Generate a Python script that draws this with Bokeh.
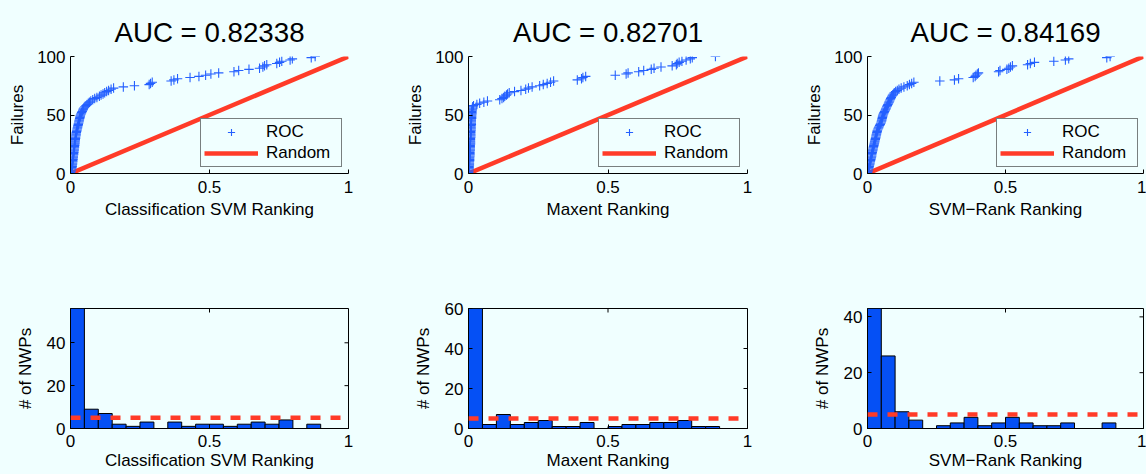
import math
from bokeh.plotting import figure
from bokeh.layouts import column, row
from bokeh.models import Legend, LegendItem, FixedTicker, Span, Range1d
from bokeh.embed import file_html
from bokeh.resources import INLINE

# ---------------- data ----------------
titles = ["AUC = 0.82338", "AUC = 0.82701", "AUC = 0.84169"]
xlabels = ["Classification SVM Ranking", "Maxent Ranking", "SVM\u2212Rank Ranking"]

# normalised rank of each of the 100 failures (sorted)
rank_svm = [
    0.000, 0.002, 0.003, 0.004, 0.005, 0.006, 0.006, 0.007, 0.007, 0.008,
    0.008, 0.009, 0.009, 0.010, 0.010, 0.011, 0.011, 0.012, 0.012, 0.013,
    0.013, 0.014, 0.014, 0.015, 0.015, 0.016, 0.016, 0.017, 0.017, 0.018,
    0.018, 0.019, 0.020, 0.020, 0.021, 0.022, 0.023, 0.024, 0.025, 0.026,
    0.027, 0.028, 0.029, 0.030, 0.031, 0.032, 0.033, 0.034, 0.035, 0.036,
    0.038, 0.040, 0.042, 0.044, 0.046, 0.048,
    0.052, 0.056, 0.060, 0.064, 0.068, 0.073, 0.080, 0.087, 0.095,
    0.104, 0.110, 0.117, 0.123, 0.130, 0.137, 0.146,
    0.155, 0.190, 0.230, 0.283, 0.288, 0.294,
    0.362, 0.372, 0.385, 0.430, 0.462, 0.486, 0.505, 0.533, 0.588,
    0.605, 0.642, 0.680, 0.692, 0.698, 0.706, 0.742,
    0.752, 0.760, 0.790, 0.798, 0.866, 0.880,
]
rank_maxent = [
    0.000, 0.001, 0.001, 0.002, 0.002, 0.002, 0.003, 0.003, 0.003, 0.003,
    0.004, 0.004, 0.004, 0.004, 0.005, 0.005, 0.005, 0.005, 0.005, 0.006,
    0.006, 0.006, 0.006, 0.006, 0.007, 0.007, 0.007, 0.007, 0.007, 0.007,
    0.008, 0.008, 0.008, 0.008, 0.008, 0.008, 0.009, 0.009, 0.009, 0.009,
    0.009, 0.010, 0.010, 0.010, 0.010, 0.010, 0.011, 0.011, 0.011, 0.011,
    0.012, 0.012, 0.012, 0.013, 0.013, 0.014, 0.015,
    0.018, 0.030, 0.040,
    0.055, 0.068,
    0.112, 0.120, 0.126, 0.130, 0.136, 0.140, 0.146,
    0.165, 0.188, 0.205, 0.215, 0.228,
    0.255, 0.268, 0.282, 0.294, 0.305, 0.390, 0.405, 0.410, 0.420,
    0.526, 0.565, 0.572, 0.610, 0.628, 0.655, 0.665, 0.690,
    0.730, 0.745, 0.748, 0.755, 0.765, 0.780, 0.795, 0.802, 0.885,
]
rank_svmrank = [
    0.000, 0.002, 0.003, 0.004, 0.005, 0.006, 0.007, 0.008, 0.009, 0.010,
    0.011, 0.012, 0.013, 0.014, 0.015, 0.015, 0.016, 0.017, 0.018, 0.019,
    0.020, 0.021, 0.022, 0.023, 0.024, 0.025, 0.026, 0.027, 0.028, 0.029,
    0.030, 0.031, 0.032, 0.033, 0.034, 0.035, 0.036, 0.038, 0.040, 0.042,
    0.044, 0.046, 0.048,
    0.050, 0.051, 0.052, 0.053, 0.054, 0.055, 0.056, 0.058, 0.060, 0.062,
    0.064, 0.066, 0.068, 0.070, 0.072, 0.074, 0.076, 0.078, 0.080, 0.082,
    0.084, 0.086, 0.088, 0.091, 0.094, 0.097,
    0.102, 0.108, 0.114, 0.122, 0.132, 0.144,
    0.152, 0.160, 0.168, 0.262, 0.315, 0.330,
    0.383, 0.390, 0.393, 0.398, 0.402, 0.475, 0.480,
    0.505, 0.512, 0.518, 0.525, 0.580, 0.590, 0.605, 0.675,
    0.717, 0.729, 0.867, 0.879,
]
ranks = [rank_svm, rank_maxent, rank_svmrank]
for r in ranks:
    assert len(r) == 100

random_x = [0, 1]
random_y = [0, 100]

bin_centers = [0.025, 0.075, 0.125, 0.175, 0.225, 0.275, 0.325, 0.375, 0.425, 0.475,
               0.525, 0.575, 0.625, 0.675, 0.725, 0.775, 0.825, 0.875, 0.925, 0.975]
hist_svm = [56, 9, 7, 2, 1, 3, 0, 3, 1, 2, 2, 1, 2, 3, 2, 4, 0, 2, 0, 0]
hist_maxent = [60, 2, 7, 2, 3, 4, 1, 1, 3, 0, 1, 2, 2, 3, 3, 4, 1, 1, 0, 0]
hist_svmrank = [43, 26, 6, 3, 0, 1, 2, 4, 1, 2, 4, 2, 1, 1, 2, 0, 0, 2, 0, 0]
hists = [hist_svm, hist_maxent, hist_svmrank]
uniform_level = [5, 5, 5]
hist_ymax = [56, 60, 43]
hist_yticks = [[0, 20, 40], [0, 20, 40, 60], [0, 20, 40]]
x_ticks = [0, 0.5, 1]

# ---------------- style ----------------
BG = "#f0ffff"
BLUE = "#2460ff"
BAR = "#0550f5"
RED = "#ff3b28"
FONT = "Liberation Sans"
FS = "17px"

# column geometry: (left border, frame width, right border)
cols = [(70, 278, 52), (68, 279, 53), (67, 276, 3)]
legend_x = [130, 130, 129]


def style_axis(ax):
    ax.major_tick_in = 4
    ax.major_tick_out = 0
    ax.minor_tick_line_color = None
    ax.axis_line_color = "black"
    ax.major_tick_line_color = "black"
    ax.major_label_text_font = FONT
    ax.major_label_text_font_size = FS
    ax.major_label_text_color = "black"
    ax.axis_label_text_font = FONT
    ax.axis_label_text_font_size = FS
    ax.axis_label_text_font_style = "normal"
    ax.axis_label_text_color = "black"


xt_over = {0: "0", 0.5: "0.5", 1: "1"}

tops = []
bottoms = []
for i in range(3):
    lb, fw, rb = cols[i]
    # ---------- ROC ----------
    p = figure(frame_width=fw, frame_height=117, min_border_left=lb, min_border_right=rb,
               min_border_top=56, min_border_bottom=67,
               x_range=Range1d(0, 1), y_range=Range1d(0, 100),
               output_backend="svg", toolbar_location=None, title=titles[i])
    p.background_fill_color = BG
    p.border_fill_color = BG
    p.outline_line_color = None
    p.grid.visible = False
    p.title.text_font = FONT
    p.title.text_font_size = "27.7px"
    p.title.text_font_style = "normal"
    p.title.text_color = "black"
    p.title.align = "center"
    p.title.standoff = 17
    style_axis(p.xaxis[0])
    style_axis(p.yaxis[0])
    p.xaxis.ticker = FixedTicker(ticks=x_ticks)
    p.xaxis.major_label_overrides = xt_over
    p.yaxis.ticker = FixedTicker(ticks=[0, 50, 100])
    p.xaxis.axis_label = xlabels[i]
    p.yaxis.axis_label = "Failures"
    p.xaxis.major_label_standoff = 7
    p.xaxis.axis_label_standoff = 4
    p.yaxis.major_label_standoff = 5
    p.yaxis.axis_label_standoff = 7

    failures = list(range(1, len(ranks[i]) + 1))  # cumulative failure count
    r_rand = p.line(random_x, random_y, line_color=RED, line_width=4.5)
    r_roc = p.scatter(ranks[i], failures, marker="cross", size=9.5, line_color=BLUE, line_width=1.1)
    leg = Legend(items=[LegendItem(label="ROC", renderers=[r_roc]),
                        LegendItem(label="Random", renderers=[r_rand])],
                 location=(legend_x[i], 6), margin=0, padding=3, spacing=1,
                 glyph_width=54, glyph_height=18, label_height=18, label_width=72,
                 label_standoff=8, label_text_font=FONT, label_text_font_size=FS,
                 label_text_color="black",
                 border_line_color="black", border_line_width=1,
                 background_fill_color=BG, background_fill_alpha=1)
    p.add_layout(leg)
    tops.append(p)

    # ---------- histogram ----------
    h = figure(frame_width=fw, frame_height=120, min_border_left=lb, min_border_right=rb,
               min_border_top=68, min_border_bottom=46,
               x_range=Range1d(0, 1), y_range=Range1d(0, hist_ymax[i]),
               output_backend="svg", toolbar_location=None)
    h.background_fill_color = BG
    h.border_fill_color = BG
    h.outline_line_color = "black"
    h.outline_line_width = 1
    h.grid.visible = False
    style_axis(h.xaxis[0])
    style_axis(h.yaxis[0])
    h.xaxis.ticker = FixedTicker(ticks=x_ticks)
    h.xaxis.major_label_overrides = xt_over
    h.yaxis.ticker = FixedTicker(ticks=hist_yticks[i])
    h.xaxis.axis_label = xlabels[i]
    h.yaxis.axis_label = "# of NWPs"
    h.xaxis.major_label_standoff = 6
    h.xaxis.axis_label_standoff = 1
    h.yaxis.major_label_standoff = 5
    h.yaxis.axis_label_standoff = 9
    h.vbar(x=bin_centers, width=0.05, top=hists[i], bottom=0,
           fill_color=BAR, line_color="black", line_width=1)
    h.add_layout(Span(location=uniform_level[i], dimension="width", line_color=RED,
                      line_width=4.5, line_dash="10 10"))
    # mirrored inward ticks on the top and right edges of the box
    h.ray(x=x_ticks, y=[hist_ymax[i]] * len(x_ticks), length=4, length_units="screen",
          angle=-math.pi / 2, line_color="black", line_width=1)
    h.ray(x=[1] * len(hist_yticks[i]), y=hist_yticks[i], length=4, length_units="screen",
          angle=math.pi, line_color="black", line_width=1)
    bottoms.append(h)

layout = column(row(*tops, spacing=0), row(*bottoms, spacing=0), spacing=0)
layout.styles = {"background-color": BG}

html = file_html(layout, INLINE)
html = html.replace("<body>", '<body style="background-color:%s;">' % BG, 1)
open("out.html", "w").write(html)
